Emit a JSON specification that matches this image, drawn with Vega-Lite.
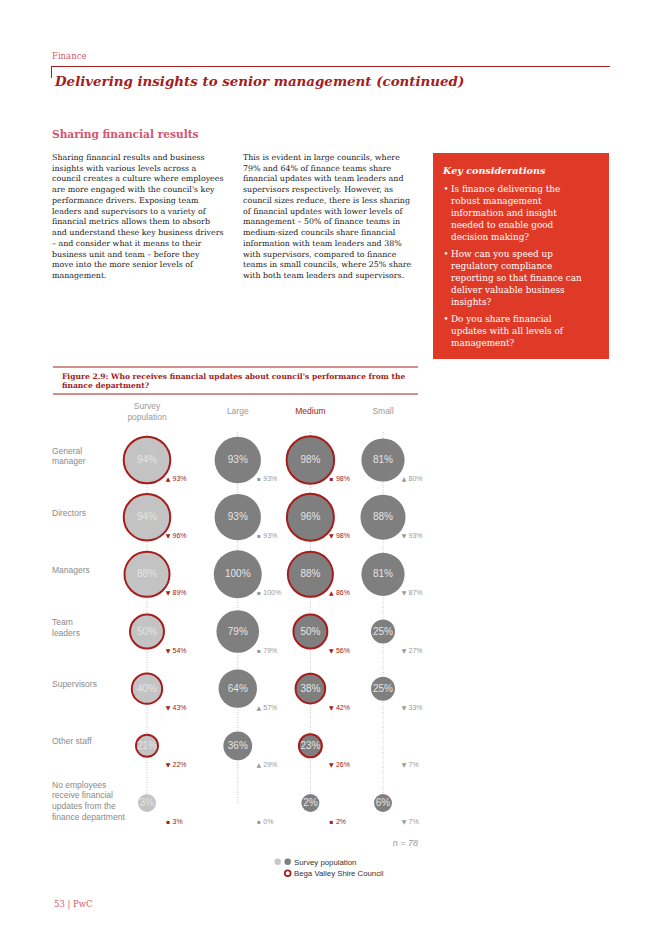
{
  "$schema": "https://vega.github.io/schema/vega-lite/v6.json",
  "width": 662,
  "height": 936,
  "autosize": {"type": "fit", "contains": "padding"},
  "padding": 0,
  "background": "white",
  "config": {"view": {"stroke": null}},
  "datasets": {
    "cells": [
      {"row": "General manager", "col": "Survey population", "value": 0.94, "prev": 0.93, "trend": "▲", "bega": true},
      {"row": "Directors", "col": "Survey population", "value": 0.94, "prev": 0.96, "trend": "▼", "bega": true},
      {"row": "Managers", "col": "Survey population", "value": 0.88, "prev": 0.89, "trend": "▼", "bega": true},
      {"row": "Team leaders", "col": "Survey population", "value": 0.50, "prev": 0.54, "trend": "▼", "bega": true},
      {"row": "Supervisors", "col": "Survey population", "value": 0.40, "prev": 0.43, "trend": "▼", "bega": true},
      {"row": "Other staff", "col": "Survey population", "value": 0.21, "prev": 0.22, "trend": "▼", "bega": true},
      {"row": "No employees receive financial updates from the finance department", "col": "Survey population", "value": 0.03, "prev": 0.03, "trend": "▪", "bega": false},
      {"row": "General manager", "col": "Large", "value": 0.93, "prev": 0.93, "trend": "▪", "bega": false},
      {"row": "Directors", "col": "Large", "value": 0.93, "prev": 0.93, "trend": "▪", "bega": false},
      {"row": "Managers", "col": "Large", "value": 1.00, "prev": 1.00, "trend": "▪", "bega": false},
      {"row": "Team leaders", "col": "Large", "value": 0.79, "prev": 0.79, "trend": "▪", "bega": false},
      {"row": "Supervisors", "col": "Large", "value": 0.64, "prev": 0.57, "trend": "▲", "bega": false},
      {"row": "Other staff", "col": "Large", "value": 0.36, "prev": 0.29, "trend": "▲", "bega": false},
      {"row": "No employees receive financial updates from the finance department", "col": "Large", "value": 0, "prev": 0, "trend": "▪", "bega": false},
      {"row": "General manager", "col": "Medium", "value": 0.98, "prev": 0.98, "trend": "▪", "bega": true},
      {"row": "Directors", "col": "Medium", "value": 0.96, "prev": 0.98, "trend": "▼", "bega": true},
      {"row": "Managers", "col": "Medium", "value": 0.88, "prev": 0.86, "trend": "▲", "bega": true},
      {"row": "Team leaders", "col": "Medium", "value": 0.50, "prev": 0.56, "trend": "▼", "bega": true},
      {"row": "Supervisors", "col": "Medium", "value": 0.38, "prev": 0.42, "trend": "▼", "bega": true},
      {"row": "Other staff", "col": "Medium", "value": 0.23, "prev": 0.26, "trend": "▼", "bega": true},
      {"row": "No employees receive financial updates from the finance department", "col": "Medium", "value": 0.02, "prev": 0.02, "trend": "▪", "bega": false},
      {"row": "General manager", "col": "Small", "value": 0.81, "prev": 0.80, "trend": "▲", "bega": false},
      {"row": "Directors", "col": "Small", "value": 0.88, "prev": 0.93, "trend": "▼", "bega": false},
      {"row": "Managers", "col": "Small", "value": 0.81, "prev": 0.87, "trend": "▼", "bega": false},
      {"row": "Team leaders", "col": "Small", "value": 0.25, "prev": 0.27, "trend": "▼", "bega": false},
      {"row": "Supervisors", "col": "Small", "value": 0.25, "prev": 0.33, "trend": "▼", "bega": false},
      {"row": "Other staff", "col": "Small", "value": 0, "prev": 0.07, "trend": "▼", "bega": false},
      {"row": "No employees receive financial updates from the finance department", "col": "Small", "value": 0.06, "prev": 0.07, "trend": "▼", "bega": false}
    ],
    "rows": [
      {"row": "General manager", "label": "General\nmanager", "lines": 2},
      {"row": "Directors", "label": "Directors", "lines": 1},
      {"row": "Managers", "label": "Managers", "lines": 1},
      {"row": "Team leaders", "label": "Team\nleaders", "lines": 2},
      {"row": "Supervisors", "label": "Supervisors", "lines": 1},
      {"row": "Other staff", "label": "Other staff", "lines": 1},
      {"row": "No employees receive financial updates from the finance department", "label": "No employees\nreceive financial\nupdates from the\nfinance department", "lines": 4}
    ]
  },
  "layer": [
    {
      "data": {"values": [{}]},
      "mark": {"type": "text", "text": "Finance", "font": "DejaVu Serif", "fontSize": 8.5, "color": "#cf5a73", "align": "left", "baseline": "alphabetic"},
      "encoding": {"x": {"value": 52}, "y": {"value": 59}}
    },
    {
      "data": {"values": [{}]},
      "mark": {"type": "rule", "color": "#a32020", "strokeWidth": 1},
      "encoding": {"x": {"value": 51}, "x2": {"value": 610}, "y": {"value": 66.5}}
    },
    {
      "data": {"values": [{}]},
      "mark": {"type": "rule", "color": "#a32020", "strokeWidth": 1},
      "encoding": {"x": {"value": 51.5}, "y": {"value": 66}, "y2": {"value": 78}}
    },
    {
      "data": {"values": [{}]},
      "mark": {"type": "text", "text": "Delivering insights to senior management (continued)", "font": "DejaVu Serif", "fontSize": 13.4, "fontWeight": "bold", "fontStyle": "italic", "color": "#a32020", "align": "left", "baseline": "alphabetic"},
      "encoding": {"x": {"value": 55}, "y": {"value": 86}}
    },
    {
      "data": {"values": [{}]},
      "mark": {"type": "text", "text": "Sharing financial results", "font": "DejaVu Serif", "fontSize": 10.6, "fontWeight": "bold", "color": "#d5556f", "align": "left", "baseline": "alphabetic"},
      "encoding": {"x": {"value": 52}, "y": {"value": 138}}
    },
    {
      "data": {"values": [{}]},
      "mark": {"type": "text", "font": "DejaVu Serif", "fontSize": 7.9, "lineHeight": 10.73, "color": "#1a1a1a", "align": "left", "baseline": "alphabetic",
        "text": ["Sharing financial results and business", "insights with various levels across a", "council creates a culture where employees", "are more engaged with the council's key", "performance drivers. Exposing team", "leaders and supervisors to a variety of", "financial metrics allows them to absorb", "and understand these key business drivers", "– and consider what it means to their", "business unit and team – before they", "move into the more senior levels of", "management."]},
      "encoding": {"x": {"value": 52}, "y": {"value": 160}}
    },
    {
      "data": {"values": [{}]},
      "mark": {"type": "text", "font": "DejaVu Serif", "fontSize": 7.9, "lineHeight": 10.73, "color": "#1a1a1a", "align": "left", "baseline": "alphabetic",
        "text": ["This is evident in large councils, where", "79% and 64% of finance teams share", "financial updates with team leaders and", "supervisors respectively. However, as", "council sizes reduce, there is less sharing", "of financial updates with lower levels of", "management – 50% of finance teams in", "medium-sized councils share financial", "information with team leaders and 38%", "with supervisors, compared to finance", "teams in small councils, where 25% share", "with both team leaders and supervisors."]},
      "encoding": {"x": {"value": 243}, "y": {"value": 160}}
    },
    {
      "data": {"values": [{}]},
      "mark": {"type": "rect", "color": "#df3a27"},
      "encoding": {"x": {"value": 433}, "x2": {"value": 609}, "y": {"value": 153}, "y2": {"value": 359}}
    },
    {
      "data": {"values": [{}]},
      "mark": {"type": "text", "text": "Key considerations", "font": "DejaVu Serif", "fontSize": 9.6, "fontWeight": "bold", "fontStyle": "italic", "color": "white", "align": "left", "baseline": "alphabetic"},
      "encoding": {"x": {"value": 443}, "y": {"value": 174}}
    },
    {
      "data": {"values": [{}]},
      "mark": {"type": "text", "font": "DejaVu Serif", "fontSize": 8.9, "lineHeight": 11.9, "color": "white", "align": "left", "baseline": "alphabetic",
        "text": ["Is finance delivering the", "robust management", "information and insight", "needed to enable good", "decision making?"]},
      "encoding": {"x": {"value": 451}, "y": {"value": 192}}
    },
    {
      "data": {"values": [{}]},
      "mark": {"type": "text", "font": "DejaVu Serif", "fontSize": 8.9, "lineHeight": 11.9, "color": "white", "align": "left", "baseline": "alphabetic",
        "text": ["How can you speed up", "regulatory compliance", "reporting so that finance can", "deliver valuable business", "insights?"]},
      "encoding": {"x": {"value": 451}, "y": {"value": 257}}
    },
    {
      "data": {"values": [{}]},
      "mark": {"type": "text", "font": "DejaVu Serif", "fontSize": 8.9, "lineHeight": 11.9, "color": "white", "align": "left", "baseline": "alphabetic",
        "text": ["Do you share financial", "updates with all levels of", "management?"]},
      "encoding": {"x": {"value": 451}, "y": {"value": 322}}
    },
    {
      "data": {"values": [{}]},
      "mark": {"type": "text", "text": "•", "font": "DejaVu Serif", "fontSize": 8.6, "color": "white", "align": "left", "baseline": "alphabetic"},
      "encoding": {"x": {"value": 443.5}, "y": {"value": 192}}
    },
    {
      "data": {"values": [{}]},
      "mark": {"type": "text", "text": "•", "font": "DejaVu Serif", "fontSize": 8.6, "color": "white", "align": "left", "baseline": "alphabetic"},
      "encoding": {"x": {"value": 443.5}, "y": {"value": 257}}
    },
    {
      "data": {"values": [{}]},
      "mark": {"type": "text", "text": "•", "font": "DejaVu Serif", "fontSize": 8.6, "color": "white", "align": "left", "baseline": "alphabetic"},
      "encoding": {"x": {"value": 443.5}, "y": {"value": 322}}
    },
    {
      "data": {"values": [{}]},
      "mark": {"type": "rule", "color": "#a32020", "strokeWidth": 1},
      "encoding": {"x": {"value": 53}, "x2": {"value": 418}, "y": {"value": 367}}
    },
    {
      "data": {"values": [{}]},
      "mark": {"type": "rule", "color": "#a32020", "strokeWidth": 1},
      "encoding": {"x": {"value": 53}, "x2": {"value": 418}, "y": {"value": 394}}
    },
    {
      "data": {"values": [{}]},
      "mark": {"type": "text", "font": "DejaVu Serif", "fontSize": 7.55, "fontWeight": "bold", "lineHeight": 9.8, "color": "#a32020", "align": "left", "baseline": "alphabetic",
        "text": ["Figure 2.9: Who receives financial updates about council's performance from the", "finance department?"]},
      "encoding": {"x": {"value": 62}, "y": {"value": 378.5}}
    },
    {
      "data": {"name": "cells"},
      "transform": [{"filter": "datum.row === 'General manager'"}],
      "mark": {"type": "rule", "color": "#b5b5b5", "strokeWidth": 0.8, "strokeDash": [1, 1.5], "yOffset": -28},
      "encoding": {
        "x": {"field": "col", "type": "nominal", "axis": null,
          "scale": {"type": "point", "padding": 0, "range": [147, 383],
            "domain": ["Survey population", "_1", "_2", "_3", "_4", "Large", "_5", "_6", "_7", "Medium", "_8", "_9", "_10", "Small"]}},
        "y": {"datum": "General manager", "type": "nominal", "axis": null,
          "scale": {"type": "point", "padding": 0, "range": [460, 803],
            "domain": ["General manager", "Directors", "Managers", "Team leaders", "Supervisors", "Other staff", "No employees receive financial updates from the finance department"]}},
        "y2": {"datum": "No employees receive financial updates from the finance department"}
      }
    },
    {
      "data": {"name": "cells"},
      "transform": [{"filter": "datum.value > 0"}],
      "mark": {"type": "circle", "opacity": 1, "strokeWidth": 2},
      "encoding": {
        "x": {"field": "col", "type": "nominal", "axis": null},
        "y": {"field": "row", "type": "nominal", "axis": null},
        "size": {"field": "value", "type": "quantitative", "legend": null,
          "scale": {"type": "linear", "domain": [0, 0.14, 1], "range": [324, 324, 2304]}},
        "fill": {"condition": {"test": "datum.col === 'Survey population'", "value": "#c3c3c3"}, "value": "#7f7f7f"},
        "stroke": {"condition": {"test": "datum.bega", "value": "#a51d1d"}, "value": null}
      }
    },
    {
      "data": {"name": "cells"},
      "transform": [{"filter": "datum.value > 0"}],
      "mark": {"type": "text", "font": "Liberation Sans", "fontSize": 10, "color": "#e4e4e4", "align": "center", "baseline": "middle"},
      "encoding": {
        "x": {"field": "col", "type": "nominal", "axis": null},
        "y": {"field": "row", "type": "nominal", "axis": null},
        "text": {"field": "value", "type": "quantitative", "format": ".0%"}
      }
    },
    {
      "data": {"name": "cells"},
      "mark": {"type": "text", "font": "DejaVu Sans", "fontSize": 6, "align": "center", "baseline": "middle", "dx": 21, "dy": 19},
      "encoding": {
        "x": {"field": "col", "type": "nominal", "axis": null},
        "y": {"field": "row", "type": "nominal", "axis": null},
        "text": {"field": "trend", "type": "nominal"},
        "color": {"condition": {"test": "datum.col === 'Survey population' || datum.col === 'Medium'", "value": "#a32020"}, "value": "#999999"}
      }
    },
    {
      "data": {"name": "cells"},
      "mark": {"type": "text", "font": "Liberation Sans", "fontSize": 7, "align": "left", "baseline": "middle", "dx": 25.5, "dy": 19},
      "encoding": {
        "x": {"field": "col", "type": "nominal", "axis": null},
        "y": {"field": "row", "type": "nominal", "axis": null},
        "text": {"field": "prev", "type": "quantitative", "format": ".0%"},
        "color": {"condition": {"test": "datum.col === 'Survey population' || datum.col === 'Medium'", "value": "#a32020"}, "value": "#999999"}
      }
    },
    {
      "data": {"name": "cells"},
      "transform": [{"filter": "datum.row === 'General manager' && datum.col !== 'Survey population'"}],
      "mark": {"type": "text", "font": "Liberation Sans", "fontSize": 8.5, "align": "center", "baseline": "middle", "dy": -49},
      "encoding": {
        "x": {"field": "col", "type": "nominal", "axis": null},
        "y": {"datum": "General manager", "type": "nominal", "axis": null},
        "text": {"field": "col", "type": "nominal"},
        "color": {"condition": {"test": "datum.col === 'Medium'", "value": "#a32020"}, "value": "#9a9a9a"}
      }
    },
    {
      "data": {"name": "cells"},
      "transform": [{"filter": "datum.row === 'General manager' && datum.col === 'Survey population'"}],
      "mark": {"type": "text", "font": "Liberation Sans", "fontSize": 8.5, "align": "center", "baseline": "middle", "dy": -54, "lineBreak": " ", "lineHeight": 10.5, "color": "#9a9a9a"},
      "encoding": {
        "x": {"field": "col", "type": "nominal", "axis": null},
        "y": {"datum": "General manager", "type": "nominal", "axis": null},
        "text": {"field": "col", "type": "nominal"}
      }
    },
    {
      "data": {"name": "rows"},
      "transform": [{"filter": "datum.lines === 1"}],
      "mark": {"type": "text", "font": "Liberation Sans", "fontSize": 8.5, "color": "#8a8a8a", "align": "left", "baseline": "middle", "dx": -95, "dy": -4.5},
      "encoding": {
        "x": {"datum": "Survey population", "type": "nominal", "axis": null},
        "y": {"field": "row", "type": "nominal", "axis": null},
        "text": {"field": "label", "type": "nominal"}
      }
    },
    {
      "data": {"name": "rows"},
      "transform": [{"filter": "datum.lines === 2"}],
      "mark": {"type": "text", "font": "Liberation Sans", "fontSize": 8.5, "color": "#8a8a8a", "align": "left", "baseline": "middle", "dx": -95, "dy": -9.5, "lineBreak": "\n", "lineHeight": 10.8},
      "encoding": {
        "x": {"datum": "Survey population", "type": "nominal", "axis": null},
        "y": {"field": "row", "type": "nominal", "axis": null},
        "text": {"field": "label", "type": "nominal"}
      }
    },
    {
      "data": {"name": "rows"},
      "transform": [{"filter": "datum.lines === 4"}],
      "mark": {"type": "text", "font": "Liberation Sans", "fontSize": 8.5, "color": "#8a8a8a", "align": "left", "baseline": "middle", "dx": -95, "dy": -18.5, "lineBreak": "\n", "lineHeight": 10.8},
      "encoding": {
        "x": {"datum": "Survey population", "type": "nominal", "axis": null},
        "y": {"field": "row", "type": "nominal", "axis": null},
        "text": {"field": "label", "type": "nominal"}
      }
    },
    {
      "data": {"values": [{}]},
      "mark": {"type": "text", "text": "n = 78", "font": "Liberation Sans", "fontSize": 9, "fontStyle": "italic", "color": "#9a9a9a", "align": "right", "baseline": "alphabetic"},
      "encoding": {"x": {"value": 418}, "y": {"value": 846}}
    },
    {
      "data": {"values": [{}]},
      "mark": {"type": "circle", "color": "#c8c8c8", "opacity": 1, "size": 42},
      "encoding": {"x": {"value": 277.7}, "y": {"value": 861.7}}
    },
    {
      "data": {"values": [{}]},
      "mark": {"type": "circle", "color": "#7f7f7f", "opacity": 1, "size": 42},
      "encoding": {"x": {"value": 287.7}, "y": {"value": 861.7}}
    },
    {
      "data": {"values": [{}]},
      "mark": {"type": "point", "shape": "circle", "filled": false, "stroke": "#a51d1d", "strokeWidth": 1.7, "opacity": 1, "size": 34},
      "encoding": {"x": {"value": 287.7}, "y": {"value": 873.3}}
    },
    {
      "data": {"values": [{}]},
      "mark": {"type": "text", "font": "Liberation Sans", "fontSize": 7.8, "lineHeight": 11.6, "color": "#333333", "align": "left", "baseline": "alphabetic",
        "text": ["Survey population", "Bega Valley Shire Council"]},
      "encoding": {"x": {"value": 294}, "y": {"value": 864.8}}
    },
    {
      "data": {"values": [{}]},
      "mark": {"type": "text", "text": "53 | PwC", "font": "DejaVu Serif", "fontSize": 8.5, "color": "#cf5a73", "align": "left", "baseline": "alphabetic"},
      "encoding": {"x": {"value": 54}, "y": {"value": 907}}
    }
  ]
}
